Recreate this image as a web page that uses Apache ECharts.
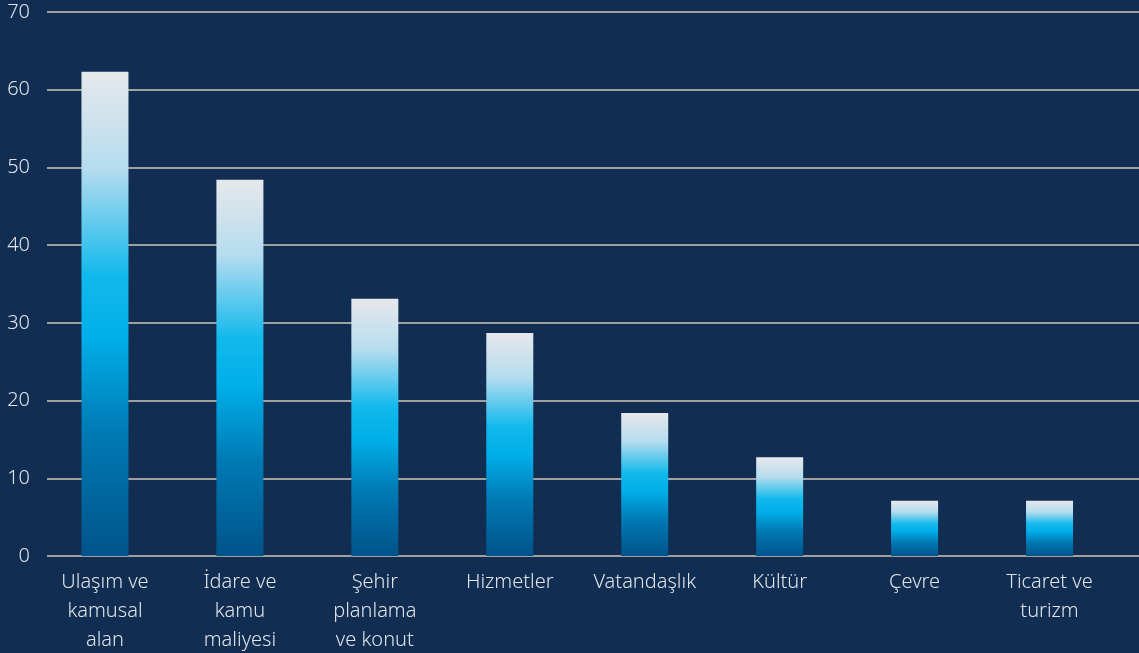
<!DOCTYPE html>
<html><head><meta charset="utf-8">
<script src="https://cdn.jsdelivr.net/npm/echarts@6/dist/echarts.min.js"></script>
<style>html,body{margin:0;padding:0;background:#112d51;}#c{width:1139px;height:653px;}</style>
</head><body><div id="c"></div>
<script>
const categories = ["Ulaşım ve\nkamusal\nalan", "İdare ve\nkamu\nmaliyesi", "Şehir\nplanlama\nve konut", "Hizmetler", "Vatandaşlık", "Kültür", "Çevre", "Ticaret ve\nturizm"];
const values = [62.3, 48.4, 33.1, 28.7, 18.4, 12.7, 7.1, 7.1];
const yMin = 0, yMax = 70, yStep = 10;

const textColor = '#dfe4ea';
const font = 'Noto Sans';
const chart = echarts.init(document.getElementById('c'), null, {renderer: 'canvas'});
chart.setOption({
  backgroundColor: '#112d51',
  animation: false,
  grid: [
    {left: 47, right: 0, top: 12, bottom: 97, outerBoundsMode: 'none', containLabel: false},
    {left: 37.5, right: 22, top: 12, bottom: 97, outerBoundsMode: 'none', containLabel: false}
  ],
  xAxis: [
    {gridIndex: 0, type: 'category', data: categories, show: false},
    {gridIndex: 1, type: 'category', data: categories,
     axisLine: {show: false}, axisTick: {show: false},
     axisLabel: {color: textColor, fontFamily: font, fontSize: 20, lineHeight: 29, margin: 12, interval: 0, fontWeight: 300}}
  ],
  yAxis: [
    {gridIndex: 0, type: 'value', min: yMin, max: yMax, interval: yStep,
     axisLine: {show: false}, axisTick: {show: false},
     axisLabel: {color: textColor, fontFamily: font, fontSize: 20, margin: 17, fontWeight: 300},
     splitLine: {lineStyle: {color: '#a0a0a0', width: 2}}},
    {gridIndex: 1, type: 'value', min: yMin, max: yMax, interval: yStep, show: false, splitLine: {show: false}}
  ],
  series: [{
    type: 'bar', xAxisIndex: 1, yAxisIndex: 1, data: values, barWidth: 47,
    itemStyle: {color: new echarts.graphic.LinearGradient(0, 0, 0, 1, [
      {offset: 0, color: '#e6e8eb'},
      {offset: 0.2, color: '#b5dcef'},
      {offset: 0.42, color: '#12b9ec'},
      {offset: 0.55, color: '#00aee9'},
      {offset: 0.75, color: '#0079b3'},
      {offset: 1, color: '#00538a'}
    ])}
  }]
});
</script></body></html>
